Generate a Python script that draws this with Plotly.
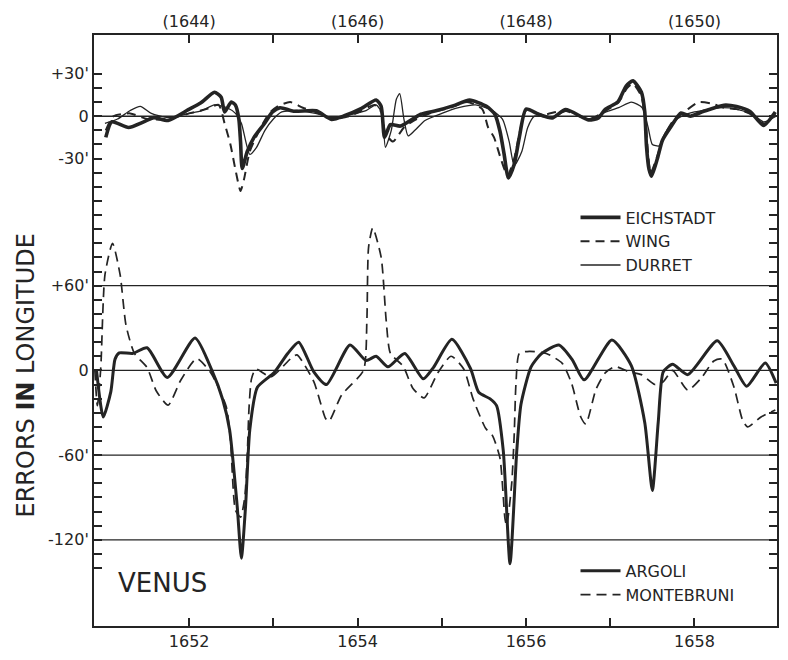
import plotly.graph_objects as go

# ---------------- data ----------------
# Upper panel: years 1643-1651 (top axis), errors in arc-minutes
EICH_X = [1643.01, 1643.08, 1643.28, 1643.46, 1643.58, 1643.75, 1643.99, 1644.14, 1644.30, 1644.38,
          1644.42, 1644.50, 1644.55, 1644.59, 1644.61, 1644.63, 1644.69, 1644.77, 1644.89, 1644.99,
          1645.08, 1645.24, 1645.51, 1645.69, 1645.85, 1646.04, 1646.22, 1646.28, 1646.32, 1646.39,
          1646.51, 1646.75, 1646.94, 1647.14, 1647.33, 1647.53, 1647.63, 1647.69, 1647.74, 1647.79,
          1647.86, 1647.92, 1648.00, 1648.15, 1648.31, 1648.47, 1648.74, 1648.86, 1648.94, 1649.09,
          1649.19, 1649.27, 1649.37, 1649.41, 1649.43, 1649.46, 1649.49, 1649.56, 1649.62, 1649.72,
          1649.84, 1649.95, 1650.11, 1650.35, 1650.50, 1650.66, 1650.82, 1650.96]
EICH_Y = [-15, -4, -8, -4, -1, -3, 4.6, 9.5, 17, 13.5,
          3, 10, 7.8, -2, -18, -37, -25, -15, -5.5, 3,
          6, 3.5, 3.8, -2.3, 0.5, 5.4, 11.5, 7, -15, -6,
          -7, 1.4, 4, 7.5, 11.4, 7, 1.4, -10.5, -27, -43.7,
          -34, -15, 5, 1.4, -1.3, 4.7, -2.6, -1.2, 4.9, 10,
          21.5, 25, 17, 3, -21, -37.5, -42.5, -30, -17, -7.5,
          2.3, 0, 3.5, 7.8, 6.8, 3.3, -6.5, 3]

WING_X = [1643.01, 1643.10, 1643.30, 1643.50, 1643.75, 1644.00, 1644.20, 1644.35, 1644.42, 1644.49,
          1644.55, 1644.61, 1644.65, 1644.72, 1644.85, 1644.95, 1645.05, 1645.20, 1645.35, 1645.50,
          1645.70, 1645.90, 1646.05, 1646.20, 1646.28, 1646.33, 1646.42, 1646.55, 1646.70, 1646.90,
          1647.10, 1647.30, 1647.48, 1647.55, 1647.62, 1647.70, 1647.78, 1647.86, 1647.93, 1648.00,
          1648.20, 1648.45, 1648.75, 1648.95, 1649.10, 1649.20, 1649.27, 1649.37, 1649.42, 1649.48,
          1649.56, 1649.64, 1649.75, 1649.90, 1650.05, 1650.20, 1650.35, 1650.50, 1650.65, 1650.82,
          1650.96]
WING_Y = [-10, 0, 2, -2, -2, 2, 5, 8, -5, -20,
          -38, -53, -45, -25, -8, 2, 7, 10, 6, 3,
          -2, 0, 4, 8, 3, -12, -18, -8, -2, 3,
          6, 10, 5, -8, -15, -30, -42, -30, -10, 4,
          1, 4, -2, 4, 10, 20, 23, 14, -5, -40,
          -28, -14, -3, 4, 10, 9, 6, 5, 2, -5,
          2]

DURRET_X = [1643.00, 1643.15, 1643.30, 1643.42, 1643.55, 1643.75, 1644.00, 1644.15, 1644.30, 1644.45,
            1644.55, 1644.62, 1644.72, 1644.80, 1644.90, 1645.00, 1645.10, 1645.30, 1645.50, 1645.70,
            1645.90, 1646.10, 1646.22, 1646.29, 1646.33, 1646.40, 1646.46, 1646.50, 1646.55, 1646.60,
            1646.68, 1646.80, 1647.00, 1647.20, 1647.40, 1647.60, 1647.72, 1647.80, 1647.86, 1647.95,
            1648.02, 1648.10, 1648.30, 1648.50, 1648.75, 1648.95, 1649.10, 1649.25, 1649.38, 1649.45,
            1649.50, 1649.58, 1649.65, 1649.75, 1649.85, 1650.00, 1650.30, 1650.50, 1650.70, 1650.82,
            1650.97]
DURRET_Y = [-5, -2, 4, 7, 2, -1, 2, 4, 8, 6,
            2, -5, -27, -22, -10, -2, 3, 4, 2, -1,
            1, 4, 8, 2, -22, -10, 12, 16, -2, -14,
            -10, -3, 2, 6, 8, 4, -2, -18, -35, -25,
            -8, 0, -1, 4, -2, 3, 6, 10, 6, -8,
            -20, -21, -12, -4, 0, 3, 6, 5, 1, -4,
            0]

# Lower panel: years 1651-1659 (bottom axis)
ARGOLI_X = [1650.90, 1650.98, 1651.07, 1651.12, 1651.17, 1651.33, 1651.50, 1651.74, 1652.07, 1652.27,
            1652.40, 1652.48, 1652.57, 1652.62, 1652.67, 1652.72, 1652.81, 1653.01, 1653.17, 1653.30,
            1653.48, 1653.63, 1653.91, 1654.10, 1654.22, 1654.36, 1654.56, 1654.78, 1654.90, 1655.12,
            1655.34, 1655.44, 1655.57, 1655.65, 1655.73, 1655.81, 1655.89, 1655.94, 1656.06, 1656.18,
            1656.39, 1656.55, 1656.69, 1657.02, 1657.25, 1657.41, 1657.50, 1657.57, 1657.63, 1657.74,
            1657.92, 1658.27, 1658.47, 1658.62, 1658.84, 1658.97]
ARGOLI_Y = [0, -33, -15, 8, 12.4, 12, 16, -5, 23, 0,
            -21, -42, -96, -133, -96, -42, -12, -1.5, 12, 20,
            -1, -10, 18, 7, 10, 2.5, 12, -6, 2, 22,
            1.5, -15.7, -20, -25, -57, -137, -57, -24, 2.5, 11.7,
            18, 7.5, -6.7, 21.5, 3.4, -37, -85, -36.5, -1, 4.3,
            -3, 21, 3, -11.3, 5.3, -9]

MONTE_X = [1650.88, 1650.91, 1650.95, 1651.00, 1651.09, 1651.18, 1651.25, 1651.35, 1651.50, 1651.61,
           1651.75, 1651.90, 1652.09, 1652.26, 1652.44, 1652.49, 1652.55, 1652.61, 1652.66, 1652.69,
           1652.71, 1652.74, 1652.79, 1652.97, 1653.21, 1653.28, 1653.48, 1653.62, 1653.66, 1653.81,
           1654.07, 1654.11, 1654.13, 1654.18, 1654.28, 1654.34, 1654.39, 1654.54, 1654.66, 1654.79,
           1654.95, 1655.11, 1655.26, 1655.37, 1655.52, 1655.60, 1655.69, 1655.75, 1655.77, 1655.83,
           1655.86, 1655.88, 1655.92, 1656.04, 1656.24, 1656.43, 1656.54, 1656.65, 1656.71, 1656.83,
           1656.94, 1657.06, 1657.22, 1657.37, 1657.53, 1657.63, 1657.74, 1657.92, 1658.08, 1658.23,
           1658.33, 1658.47, 1658.57, 1658.63, 1658.79, 1658.96]
MONTE_Y = [0, -25, 1.4, 67.6, 90, 67.8, 32, 12, 2, -14.6,
           -24.6, -7, 8.4, -2, -25.6, -49, -99, -104, -90, -60,
           -27.5, -6, 1, -4.6, 8.6, 11, -8, -34, -36, -17.5,
           0, 35, 87, 101, 80, 35, 12, 3, -13, -19.5,
           -2, 10, 1, -20, -41, -46, -62, -105, -110, -80,
           -45, -10, 12, 13.5, 12, 5, -9, -33, -38, -13.5,
           -1.8, 2.7, -1, -3, -10, -8, 0, -14, -5.5, 6.7,
           8, -12, -35, -40, -33, -28]

BOTTOM_TICKS = [1652, 1653, 1654, 1655, 1656, 1657, 1658]
BOTTOM_LABELS = ["1652", "", "1654", "", "1656", "", "1658"]
TOP_TICKS = [1644, 1645, 1646, 1647, 1648, 1649, 1650]
TOP_LABELS = ["(1644)", "", "(1646)", "", "(1648)", "", "(1650)"]
LOW_TICKS = list(range(-140, 110, 10))
LOW_LABELED = {60: "+60'", 0: "0", -60: "-60'", -120: "-120'"}
UP_TICKS = list(range(-70, 40, 10))
UP_LABELED = {30: "+30'", 0: "0", -30: "-30'"}
LOW_REF = [60, 0, -60, -120]
UP_REF = [0]

INK = "#242424"
FONT = "DejaVu Sans"

fig = go.Figure()

fig.add_trace(go.Scatter(x=EICH_X, y=EICH_Y, name="EICHSTADT", xaxis="x2", yaxis="y2",
                         mode="lines", line=dict(color=INK, width=3.6, shape="spline", smoothing=0.6),
                         legend="legend"))
fig.add_trace(go.Scatter(x=WING_X, y=WING_Y, name="WING", xaxis="x2", yaxis="y2",
                         mode="lines", line=dict(color=INK, width=2, dash="9px,6px", shape="spline", smoothing=0.6),
                         legend="legend"))
fig.add_trace(go.Scatter(x=DURRET_X, y=DURRET_Y, name="DURRET", xaxis="x2", yaxis="y2",
                         mode="lines", line=dict(color=INK, width=1.3, shape="spline", smoothing=0.6),
                         legend="legend"))
fig.add_trace(go.Scatter(x=ARGOLI_X, y=ARGOLI_Y, name="ARGOLI",
                         mode="lines", line=dict(color=INK, width=3, shape="spline", smoothing=0.6),
                         legend="legend2"))
fig.add_trace(go.Scatter(x=MONTE_X, y=MONTE_Y, name="MONTEBRUNI",
                         mode="lines", line=dict(color=INK, width=1.7, dash="10px,6px", shape="spline", smoothing=0.6),
                         legend="legend2"))

for v in LOW_REF:
    fig.add_shape(type="line", xref="paper", x0=0, x1=1, yref="y", y0=v, y1=v,
                  line=dict(color=INK, width=1.4), layer="below")
for v in UP_REF:
    fig.add_shape(type="line", xref="paper", x0=0, x1=1, yref="y2", y0=v, y1=v,
                  line=dict(color=INK, width=1.4), layer="below")

axis_common = dict(showline=True, linecolor=INK, linewidth=2, showgrid=False, zeroline=False,
                   ticks="inside", ticklen=8, tickwidth=2, tickcolor=INK, layer="above traces",
                   tickfont=dict(family=FONT, size=16, color=INK))

fig.update_layout(
    width=772, height=644,
    margin=dict(l=86, r=1, t=27, b=26),
    paper_bgcolor="white", plot_bgcolor="white",
    font=dict(family=FONT, color=INK),
    xaxis=dict(range=[1650.87, 1658.98], tickvals=BOTTOM_TICKS, ticktext=BOTTOM_LABELS,
               **axis_common),
    xaxis2=dict(range=[1642.87, 1650.98], tickvals=TOP_TICKS, ticktext=TOP_LABELS,
                overlaying="x", side="top", anchor="y", **axis_common),
    yaxis=dict(range=[-181, 237.5], tickvals=LOW_TICKS,
               ticktext=[LOW_LABELED.get(t, "") for t in LOW_TICKS], mirror="ticks", **axis_common),
    yaxis2=dict(range=[-361, 57.5], tickvals=UP_TICKS,
                ticktext=[UP_LABELED.get(t, "") for t in UP_TICKS],
                overlaying="y", side="left", anchor="x", mirror="ticks", **axis_common),
    legend=dict(x=0.705, y=0.72, xanchor="left", yanchor="top", bgcolor="rgba(0,0,0,0)",
                font=dict(family=FONT, size=16, color=INK), itemwidth=40, tracegroupgap=0),
    legend2=dict(x=0.705, y=0.122, xanchor="left", yanchor="top", bgcolor="rgba(0,0,0,0)",
                 font=dict(family=FONT, size=16, color=INK), itemwidth=40, tracegroupgap=0),
    annotations=[
        dict(text="VENUS", xref="paper", yref="paper", x=0.1, y=0.073, showarrow=False,
             xanchor="center", yanchor="middle", font=dict(family=FONT, size=26, color=INK)),
        dict(text="ERRORS <b>IN</b> LONGITUDE", xref="paper", yref="paper", x=-0.1, y=0.425,
             showarrow=False, textangle=-90, xanchor="center", yanchor="middle",
             font=dict(family=FONT, size=24, color=INK)),
    ],
)

fig.write_html("out.html")
